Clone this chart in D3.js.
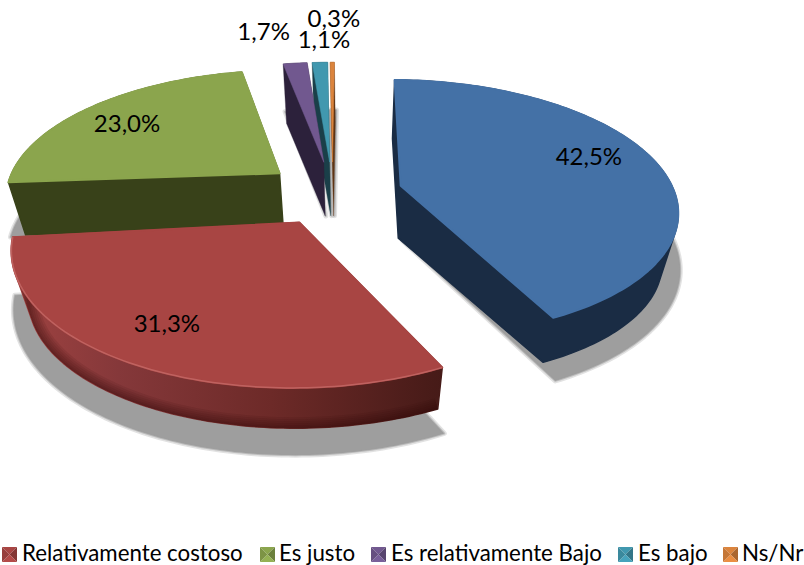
<!DOCTYPE html>
<html><head><meta charset="utf-8">
<script src="https://cdnjs.cloudflare.com/ajax/libs/d3/7.8.5/d3.min.js"></script>
<style>html,body{margin:0;padding:0;background:#fff}svg{display:block}text{font-family:Lato,"Open Sans",sans-serif;fill:#000}</style>
</head><body><svg id="c" width="804" height="565"></svg>
<script>
const values=[42.5,31.3,23.0,1.7,1.1,0.3];
const valueLabels=["42,5%","31,3%","23,0%","1,7%","1,1%","0,3%"];
const legendLabels=["Relativamente costoso","Es justo","Es relativamente Bajo","Es bajo","Ns/Nr"];
const topColors=["#4471a6","#a84543","#8ba54d","#71588f","#4198af","#db843d"];
const sideColors=["#1a2c44","#6e2b29","#384119","#2c213b","#1a3f49","#5e3413"];
const labelRadius=[0.77,0.76,0.77,1.41,1.28,1.55];
const labelTurn=[-6,0.7,-3,-4.7,0.8,-0.2];
const turnStart=[0,-0.5,-1.2,-0.5,-0.5,-0.5];
const turnEnd=[0,-3,-1.2,-0.5,-0.5,-0.5];
const nudgeU=[0.008,0.013,0,0,0,0];
const nudgeV=[0,0.012,0,0,0,0];
const radiusFactor=[0.995,0.985,1,1,1,1];
const legendMarkerX=[2,260,371,618,723];
const legendTextX=[22,279,391,638,742];

const W=804,H=565,cx=332,cy=192.5,A=275,B=127,K=0.175,EXPLODE=0.25,startDeg=1;
const svg=d3.select("#c");
const defs=svg.append("defs");
const grad=defs.append("linearGradient").attr("id","redSide").attr("gradientUnits","userSpaceOnUse")
  .attr("x1",10).attr("x2",445).attr("y1",0).attr("y2",0);
[[0,"#a04341"],[0.25,"#85383a"],[0.6,"#6d2a28"],[1,"#451a17"]].forEach(d=>grad.append("stop").attr("offset",d[0]).attr("stop-color",d[1]));

const x=d3.scaleLinear().domain([-1,1]).range([cx-A,cx+A]);
const y=d3.scaleLinear().domain([-1,1]).range([cy-B,cy+B]);
const rad=d3.scaleLinear().domain([0,360]).range([0,2*Math.PI]);
const pie=d3.pie().sort(null).startAngle(rad(startDeg)).endAngle(rad(startDeg+360));
const arcs=pie(values);
// planar point on the pie disc -> screen through a simple perspective
const proj=(u,v)=>{const w=1-K*v;return [x(u/w),y(v/w)];};
const drop=p=>[cx+(p[0]-cx)*0.95+1,cy+(p[1]-cy)*0.94+52];
const shadeOf=p=>[p[0]+2,cy+(p[1]-cy)*1.06+55.5];
const midOf=a=>(a.startAngle+a.endAngle)/2;
const apex=(a,i)=>{const m=midOf(a);return [EXPLODE*Math.sin(m)+nudgeU[i],-EXPLODE*Math.cos(m)+nudgeV[i]];};
const rimPts=(a,i)=>{
  const o=apex(a,i),s0=a.startAngle+rad(turnStart[i]),s1=a.endAngle+rad(turnEnd[i]),
    n=Math.max(2,Math.ceil((s1-s0)/0.02)),r=radiusFactor[i];
  return d3.range(n+1).map(j=>{const t=s0+(s1-s0)*j/n;
    return proj(o[0]+r*Math.sin(t),o[1]-r*Math.cos(t));});
};
const line=d3.line();
const closed=pts=>line(pts)+"Z";
const slices=arcs.map((a,i)=>({a,i,rim:rimPts(a,i),c:proj(...apex(a,i))})).map(s=>({...s,face:[s.c,...s.rim]}));

// soft-edged cast shadow: a flat grey shape with two faint outer strokes
const shadowLayer=svg.append("g");
slices.forEach(s=>{
  const d=closed(s.face.map(p=>shadeOf(p)));
  shadowLayer.append("path").attr("d",d).attr("fill","none").attr("stroke","#9e9e9e").attr("stroke-width",5).attr("stroke-opacity",0.3).attr("stroke-linejoin","round");
  shadowLayer.append("path").attr("d",d).attr("fill","#9e9e9e").attr("stroke","#9e9e9e").attr("stroke-width",2).attr("stroke-opacity",0.55).attr("stroke-linejoin","round");
});

const order=[2,5,4,3,0,1];
const g=svg.append("g");
order.forEach(k=>{
  const s=slices[k];
  const hull=d3.polygonHull([...s.face,...s.face.map(p=>drop(p))]);
  const fill=k===1?"url(#redSide)":sideColors[k];
  g.append("path").attr("d",closed(hull)).attr("fill",fill).attr("stroke",fill).attr("stroke-width",k<3?1.5:0.3).attr("stroke-linejoin","round");
  if(k===1){
    defs.append("clipPath").attr("id","redClip").append("path").attr("d",closed(hull));
    const band=g.append("g").attr("clip-path","url(#redClip)");
    [22,18,14,10,6,3].forEach(w=>band.append("path").attr("d",line(s.rim.map(p=>drop(p)))).attr("fill","none")
      .attr("stroke","#2d0d0b").attr("stroke-width",w).attr("stroke-opacity",0.1));
  }
  g.append("path").attr("d",closed(s.face)).attr("fill",topColors[k]).attr("stroke",topColors[k]).attr("stroke-width",k<3?2:0.5).attr("stroke-linejoin","round");
  if(k===1){
    g.append("path").attr("d",line(s.rim)).attr("fill","none").attr("stroke","#c96f6c")
      .attr("stroke-width",1.5).attr("stroke-opacity",0.7);
  }
});

const labelAt=s=>{const o=apex(s.a,s.i),m=midOf(s.a)+rad(labelTurn[s.i]),r=labelRadius[s.i];return proj(o[0]+r*Math.sin(m),o[1]-r*Math.cos(m));};
svg.append("g").attr("font-size",24).selectAll("text").data(slices).join("text")
  .attr("text-anchor","middle").attr("dy","0.35em")
  .attr("x",s=>labelAt(s)[0]).attr("y",s=>labelAt(s)[1])
  .text(s=>valueLabels[s.i]);

// legend: a small bevelled square for each of the slices named in it
const legend=svg.append("g");
const M=15,my=547;
legendLabels.forEach((t,i)=>{
  const k=i+1,mx=legendMarkerX[i],c=[mx+M/2,my+M/2];
  const col=d3.color(topColors[k]);
  const corners=[[mx,my],[mx+M,my],[mx+M,my+M],[mx,my+M]];
  const tones=[col,col.darker(0.7),col.brighter(0.2),col.darker(0.3)];
  corners.forEach((p,j)=>legend.append("path").attr("d",closed([p,corners[(j+1)%4],c])).attr("fill",tones[j]));
  legend.append("text").attr("x",legendTextX[i]).attr("y",561).attr("font-size",22.3).text(t);
});
</script></body></html>
